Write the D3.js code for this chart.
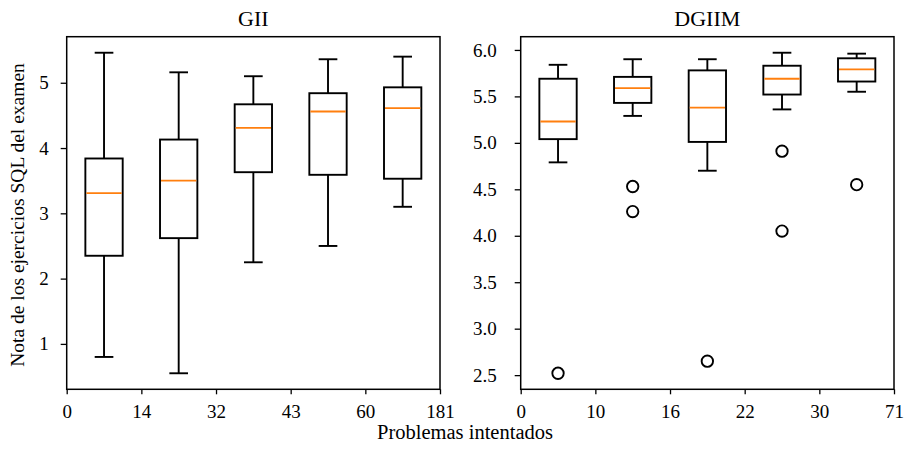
<!DOCTYPE html>
<html>
<head>
<meta charset="utf-8">
<script src="https://cdn.jsdelivr.net/npm/d3@7"></script>
<style>
  html, body { margin: 0; padding: 0; background: #fff; }
  svg { display: block; }
  text { font-family: "Liberation Serif", "DejaVu Serif", serif; fill: #000; }
</style>
</head>
<body>
<svg id="chart" width="904" height="454"></svg>
<script>
// ---------- DATA ----------
const giiEdges = ["0", "14", "32", "43", "60", "181"];
const giiWhiskLow  = [0.80, 0.55, 2.25, 2.50, 3.10];
const giiQ1        = [2.35, 2.62, 3.63, 3.59, 3.53];
const giiMedian    = [3.31, 3.50, 4.31, 4.56, 4.61];
const giiQ3        = [3.84, 4.13, 4.67, 4.84, 4.93];
const giiWhiskHigh = [5.46, 5.16, 5.10, 5.36, 5.40];
const giiOutliers  = [[], [], [], [], []];

const dgiimEdges = ["0", "10", "16", "22", "30", "71"];
const dgiimWhiskLow  = [4.79, 5.29, 4.70, 5.36, 5.55];
const dgiimQ1        = [5.04, 5.43, 5.01, 5.52, 5.66];
const dgiimMedian    = [5.23, 5.59, 5.38, 5.69, 5.79];
const dgiimQ3        = [5.69, 5.71, 5.78, 5.83, 5.91];
const dgiimWhiskHigh = [5.84, 5.90, 5.90, 5.97, 5.96];
const dgiimOutliers  = [[2.52], [4.53, 4.26], [2.65], [4.91, 4.05], [4.55]];

const giiYTicks = [1, 2, 3, 4, 5];
const dgiimYTicks = [2.5, 3.0, 3.5, 4.0, 4.5, 5.0, 5.5, 6.0];

// ---------- LAYOUT ----------
const svg = d3.select("#chart");
const plotTop = 36.7, plotBottom = 389.3;
const LW = 1.9;

function panel(cfg) {
  const g = svg.append("g");
  const n = cfg.edges.length - 1;
  const x = d3.scaleLinear().domain([0, n]).range([cfg.left, cfg.right]);
  const allVals = cfg.low.concat(cfg.high, cfg.outliers.flat());
  const mn = d3.min(allVals), mx = d3.max(allVals);
  const pad = (mx - mn) * 0.05;
  const y = d3.scaleLinear().domain([mn - pad, mx + pad]).range([plotBottom, plotTop]);

  const idx = d3.range(n);
  const bw = (x(1) - x(0)) * 0.5;
  const cw = bw * 0.5;

  idx.forEach(i => {
    const cx = x(i + 0.5);
    g.append("line").attr("x1", cx).attr("x2", cx)
      .attr("y1", y(cfg.q1[i])).attr("y2", y(cfg.low[i]))
      .attr("stroke", "#000").attr("stroke-width", LW);
    g.append("line").attr("x1", cx).attr("x2", cx)
      .attr("y1", y(cfg.q3[i])).attr("y2", y(cfg.high[i]))
      .attr("stroke", "#000").attr("stroke-width", LW);
    g.append("line").attr("x1", cx - cw / 2).attr("x2", cx + cw / 2)
      .attr("y1", y(cfg.low[i])).attr("y2", y(cfg.low[i]))
      .attr("stroke", "#000").attr("stroke-width", LW);
    g.append("line").attr("x1", cx - cw / 2).attr("x2", cx + cw / 2)
      .attr("y1", y(cfg.high[i])).attr("y2", y(cfg.high[i]))
      .attr("stroke", "#000").attr("stroke-width", LW);
    g.append("rect").attr("x", cx - bw / 2).attr("width", bw)
      .attr("y", y(cfg.q3[i])).attr("height", y(cfg.q1[i]) - y(cfg.q3[i]))
      .attr("fill", "none").attr("stroke", "#000").attr("stroke-width", LW);
    g.append("line").attr("x1", cx - bw / 2 + 1).attr("x2", cx + bw / 2 - 1)
      .attr("y1", y(cfg.med[i])).attr("y2", y(cfg.med[i]))
      .attr("stroke", "#ff7f0e").attr("stroke-width", 1.8);
    cfg.outliers[i].forEach(v => {
      g.append("circle").attr("cx", cx).attr("cy", y(v)).attr("r", 5.7)
        .attr("fill", "none").attr("stroke", "#000").attr("stroke-width", LW);
    });
  });

  g.append("rect").attr("x", cfg.left).attr("y", plotTop)
    .attr("width", cfg.right - cfg.left).attr("height", plotBottom - plotTop)
    .attr("fill", "none").attr("stroke", "#000").attr("stroke-width", 1.5);

  const xa = g.append("g").attr("transform", `translate(0,${plotBottom})`)
    .call(d3.axisBottom(x).tickValues(d3.range(n + 1))
      .tickFormat(i => cfg.edges[i]).tickSize(5).tickPadding(10));
  const ya = g.append("g").attr("transform", `translate(${cfg.left},0)`)
    .call(d3.axisLeft(y).tickValues(cfg.yTicks)
      .tickFormat(cfg.fmt).tickSize(6).tickPadding(cfg.ypad));
  [xa, ya].forEach(a => {
    a.select(".domain").remove();
    a.selectAll(".tick line").attr("stroke", "#000").attr("stroke-width", 1.3);
    a.selectAll("text").style("font-family", "'Liberation Serif', serif")
      .style("font-size", "19px").attr("fill", "#000");
  });

  g.append("text").attr("x", (cfg.left + cfg.right) / 2).attr("y", 26)
    .attr("text-anchor", "middle").style("font-size", "22px").text(cfg.title);
}

panel({
  title: "GII", left: 66.7, right: 440, edges: giiEdges, ypad: 12,
  low: giiWhiskLow, q1: giiQ1, med: giiMedian, q3: giiQ3, high: giiWhiskHigh,
  outliers: giiOutliers, yTicks: giiYTicks, fmt: d3.format("d")
});
panel({
  title: "DGIIM", left: 520.7, right: 894, edges: dgiimEdges, ypad: 18,
  low: dgiimWhiskLow, q1: dgiimQ1, med: dgiimMedian, q3: dgiimQ3, high: dgiimWhiskHigh,
  outliers: dgiimOutliers, yTicks: dgiimYTicks, fmt: d3.format(".1f")
});

svg.append("text").attr("x", 465).attr("y", 439).attr("text-anchor", "middle")
  .style("font-size", "20.5px").text("Problemas intentados");
svg.append("text").attr("transform", `translate(24,${(plotTop + plotBottom) / 2 + 2}) rotate(-90)`)
  .attr("text-anchor", "middle").style("font-size", "19.5px")
  .text("Nota de los ejercicios SQL del examen");
</script>
</body>
</html>
